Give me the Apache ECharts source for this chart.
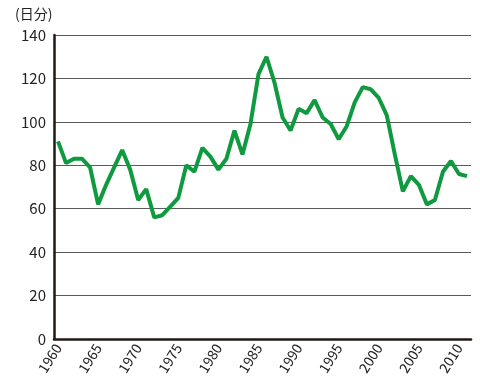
<!DOCTYPE html>
<html>
<head>
<meta charset="utf-8">
<script src="https://cdn.jsdelivr.net/npm/echarts@6/dist/echarts.min.js"></script>
<style>
  html, body { margin: 0; padding: 0; background: #fff; }
  #chart { width: 480px; height: 392px; }
</style>
</head>
<body>
<div id="chart"></div>
<script>
// 年（1960-2011）
const years = []
for (let y = 1960; y <= 2011; y++) years.push(String(y))
// 値（日分）
const values = [
  91, 81, 83, 83, 79, 62, 71, 79, 87, 78,
  64, 69, 56, 57, 61, 65, 80, 77, 88, 84,
  78, 83, 96, 85, 99, 122, 130, 118, 102, 96,
  106, 104, 110, 102, 99, 92, 98, 109, 116, 115,
  111, 103, 85, 68, 75, 71, 62, 64, 77, 82,
  76, 75
]
const yTicks = [0, 20, 40, 60, 80, 100, 120, 140]

const font = '"Noto Sans CJK JP", "Noto Sans", sans-serif'
const chart = echarts.init(document.getElementById('chart'))

chart.setOption({
  animation: false,
  grid: { left: 54, right: 9, top: 35, bottom: 53 },
  graphic: [{
    type: 'text', left: 15, top: 7,
    style: { text: '(日分)', fontSize: 14, fontFamily: font, fill: '#222' }
  }],
  xAxis: [
    {
      type: 'category',
      data: years,
      boundaryGap: true,
      axisLine: { lineStyle: { color: '#231815', width: 2.5 } },
      axisTick: { alignWithLabel: true, interval: 0, inside: true, length: 3, lineStyle: { color: '#888' } },
      axisLabel: {
        interval: 4, rotate: 58, fontSize: 14, fontFamily: font, color: '#222', margin: 6
      },
      splitLine: { show: false }
    },
    {
      type: 'category',
      data: years,
      position: 'bottom',
      boundaryGap: true,
      axisLine: { show: false },
      axisTick: { alignWithLabel: true, interval: 4, inside: true, length: 5, lineStyle: { color: '#231815', width: 1.2 } },
      axisLabel: { show: false },
      splitLine: { show: false }
    }
  ],
  yAxis: {
    type: 'value',
    min: yTicks[0],
    max: yTicks[yTicks.length - 1],
    interval: 20,
    axisLine: { show: true, lineStyle: { color: '#231815', width: 2.5 } },
    axisTick: { show: false },
    axisLabel: { fontSize: 15, fontFamily: font, color: '#222', margin: 8 },
    splitLine: { lineStyle: { color: '#5a5a5a', width: 1 } }
  },
  series: [{
    type: 'line',
    data: values,
    symbol: 'none',
    lineStyle: { color: '#0f9a40', width: 4 },
    z: 3
  }]
})
</script>
</body>
</html>
